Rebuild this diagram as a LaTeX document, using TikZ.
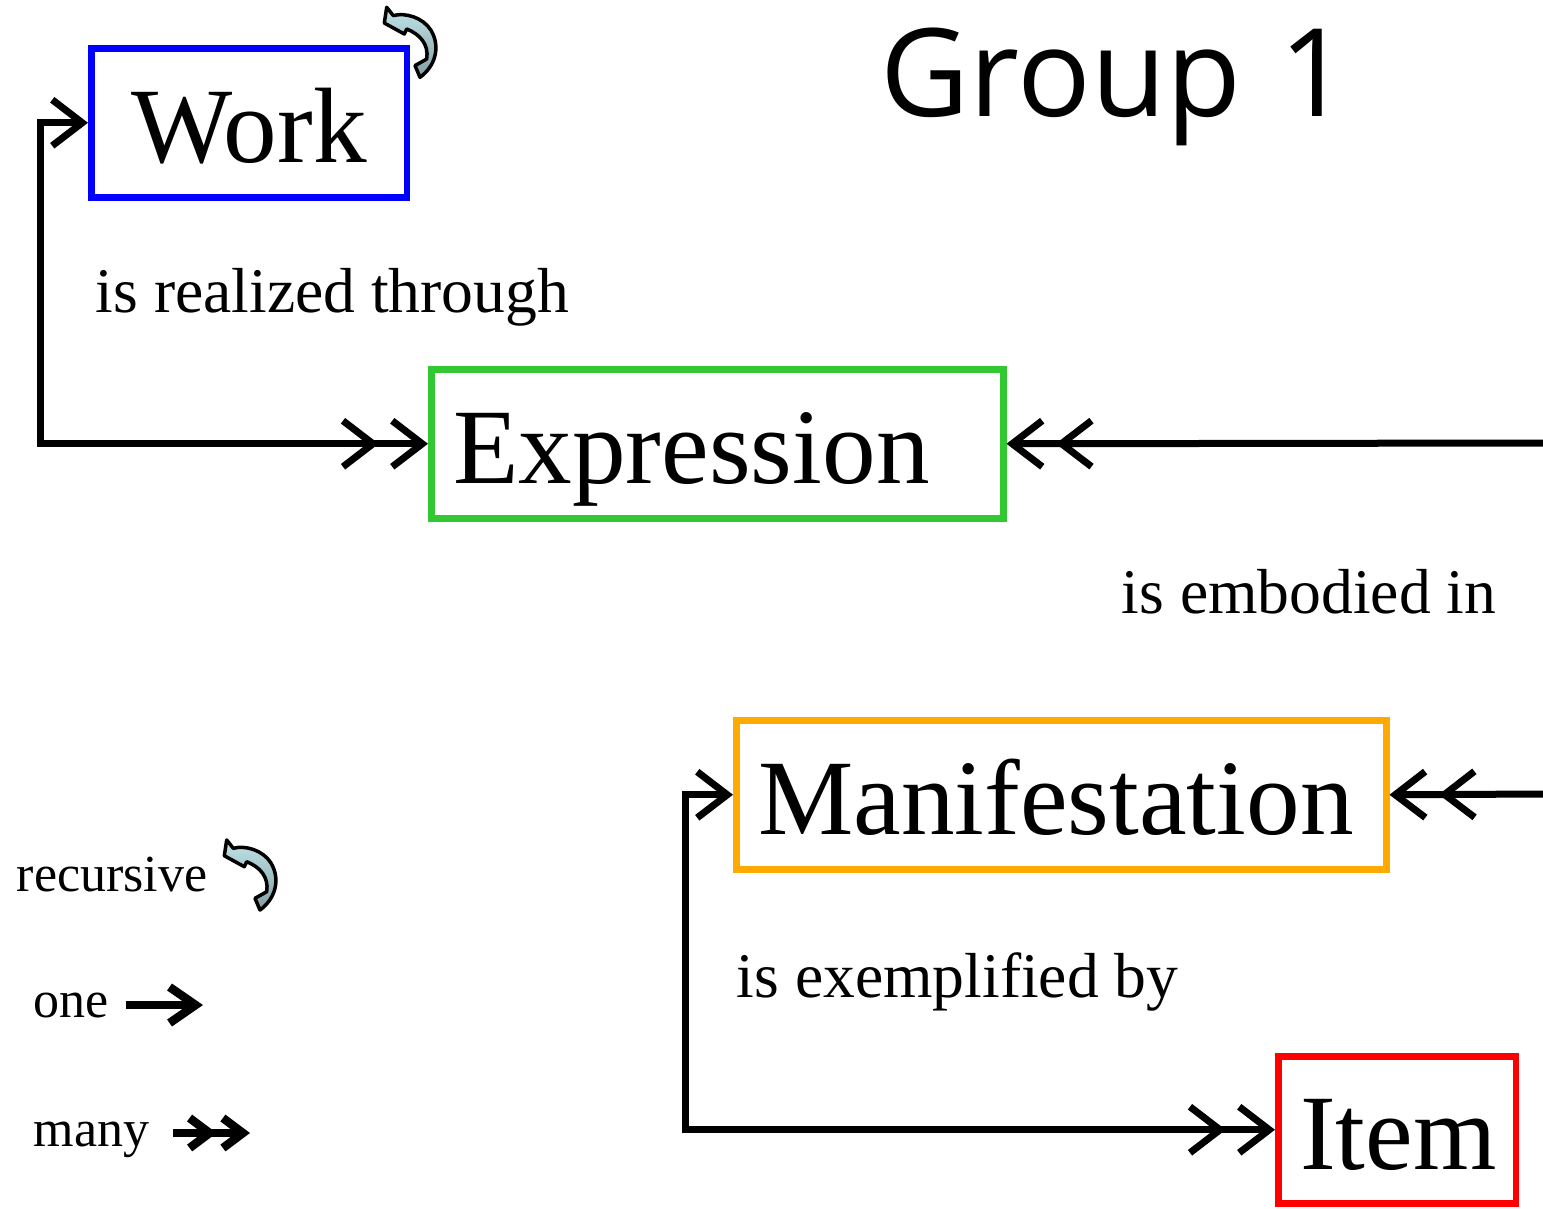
\documentclass[tikz,border=0pt]{standalone}
\usepackage{fontspec}
\setmainfont{Liberation Serif}
\newfontfamily\groupfont{Open Sans}
\usepackage{tikz}
\usetikzlibrary{arrows.meta,calc}
\definecolor{workblue}{RGB}{0,0,255}
\definecolor{exprgreen}{RGB}{50,200,50}
\definecolor{maniorange}{RGB}{255,170,0}
\definecolor{itemred}{RGB}{255,0,0}
\definecolor{curltop}{RGB}{192,228,232}
\definecolor{curlbottom}{RGB}{132,158,162}

\begin{document}
\begin{tikzpicture}[
  one/.tip={Straight Barb[length=0.3cm,width=0.46cm]},
  many/.tip={Straight Barb[length=0.3cm,width=0.46cm,sep=0.1cm] Straight Barb[length=0.3cm,width=0.46cm]},
  lone/.tip={Straight Barb[length=0.26cm,width=0.36cm]},
  lmany/.tip={Straight Barb[length=0.2cm,width=0.3cm,sep=0.02cm] Straight Barb[length=0.2cm,width=0.3cm]},
  entity/.style={draw, line width=0.065cm, anchor=north west, minimum height=1.49cm, inner xsep=0.22cm, inner ysep=0.1cm, text height=0.95cm, text depth=0.15cm, align=left, font=\fontsize{30.5}{36}\selectfont},
  rel/.style={line width=0.07cm},
  rellabel/.style={anchor=base west, inner sep=0pt, font=\fontsize{18.1}{22}\selectfont},
  legend/.style={anchor=base west, inner sep=0pt, font=\fontsize{14.8}{18}\selectfont},
  legendarrow/.style={line width=0.085cm},
  recursion/.pic={
    \filldraw[draw=black, line width=0.035cm, line join=round, top color=curltop, bottom color=curlbottom]
      (0.117,-0.050) -- (0.093,-0.207) -- (0.293,-0.317) -- (0.317,-0.267)
      .. controls (0.45,-0.32) and (0.54,-0.42) .. (0.517,-0.567)
      -- (0.400,-0.633) -- (0.450,-0.750)
      .. controls (0.60,-0.64) and (0.66,-0.45) .. (0.56,-0.28)
      .. controls (0.48,-0.15) and (0.30,-0.10) .. (0.183,-0.133) -- cycle;
  }]
\useasboundingbox (0cm,0cm) rectangle (15.43cm,-12.08cm);

\node[entity, draw=workblue, minimum width=3.155cm, text width=2.715cm, align=center] (work) at (0.88cm,-0.45cm) {Work};
\node[entity, draw=exprgreen, minimum width=5.72cm, text width=5.28cm] (expression) at (4.28cm,-3.66cm) {Expression};
\node[entity, draw=maniorange, minimum width=6.5cm, text width=6.06cm] (manifestation) at (7.33cm,-7.17cm) {Manifestation};
\node[entity, draw=itemred, minimum width=2.375cm, text width=1.935cm, minimum height=1.47cm] (item) at (12.75cm,-10.53cm) {Item};

\node[anchor=base west, inner sep=0pt, font=\groupfont\fontsize{34.8}{42}\selectfont] (group) at (8.8cm,-1.16cm) {Group\hspace{0.07cm} 1};

\pic at (3.75cm,-0.023cm) {recursion};

\node[rellabel] (realized) at (0.95cm,-3.12cm) {is realized through};
\node[rellabel] (embodied) at (11.21cm,-6.13cm) {is embodied in};
\node[rellabel] (exemplified) at (7.36cm,-9.97cm) {is exemplified by};

\coordinate (exprin) at (15.43cm,-4.43cm);
\coordinate (maniin) at (15.43cm,-7.94cm);

\draw[rel,{one}-{many}] (work.west) -- ++(-0.475cm,0) |- (expression.west);
\draw[rel,-{many}] (exprin) -- (expression.east);
\draw[rel,-{many}] (maniin) -- (manifestation.east);
\draw[rel,{one}-{many}] (manifestation.west) -- ++(-0.48cm,0) |- (item.west);

\node[legend] (recursive) at (0.16cm,-8.91cm) {recursive};
\pic at (2.15cm,-8.35cm) {recursion};
\node[legend] (one) at (0.33cm,-10.17cm) {one};
\node[legend] (many) at (0.33cm,-11.46cm) {many};
\coordinate (onetail) at (1.26cm,-10.05cm);
\coordinate (manytail) at (1.73cm,-11.33cm);
\draw[legendarrow,-{lone}] (onetail) -- ++(0.77cm,0);
\draw[legendarrow,-{lmany}] (manytail) -- ++(0.77cm,0);
\end{tikzpicture}
\end{document}
